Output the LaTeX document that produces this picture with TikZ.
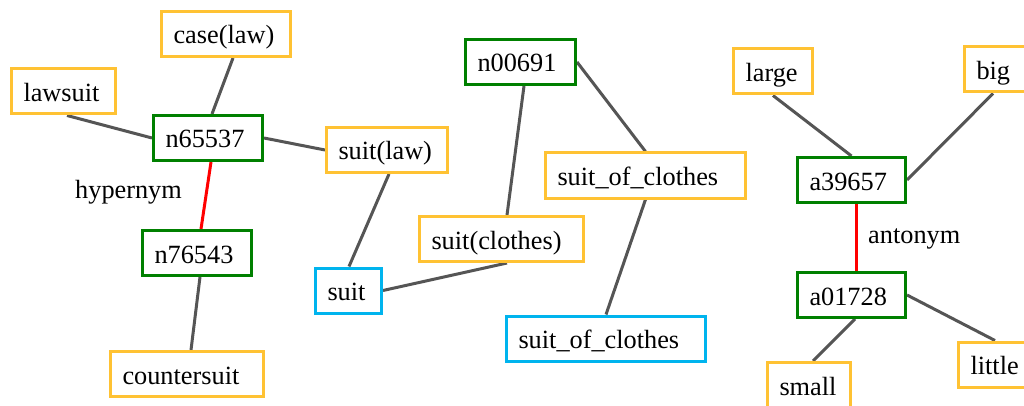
\documentclass[tikz,border=0pt]{standalone}
\usepackage{fontspec}
\setmainfont{Liberation Serif}
\usetikzlibrary{backgrounds}
\definecolor{wnorange}{HTML}{FFC233}
\definecolor{wngreen}{HTML}{008000}
\definecolor{wnblue}{HTML}{00B4EE}
\definecolor{wngray}{HTML}{555555}
\definecolor{wnred}{HTML}{FF0000}
\begin{document}
\begin{tikzpicture}[x=1pt,y=-1pt,
  box/.style={draw, line width=3pt, fill=white, inner xsep=12pt, inner ysep=0pt,
    minimum height=45pt, text height=22pt, text depth=2pt, align=left,
    font=\fontsize{26.3}{30}\selectfont},
  lemma/.style={box, draw=wnorange},
  syn/.style={box, draw=wngreen},
  word/.style={box, draw=wnblue},
  edge/.style={draw=wngray, line width=3pt},
  rel/.style={draw=wnred, line width=3pt},
  lbl/.style={inner sep=0pt, anchor=base west, font=\fontsize{26.3}{30}\selectfont}]
\useasboundingbox (0,0) rectangle (1024,406);
\clip (0,0) rectangle (1024,406);
% left cluster
\node[lemma, text width=105pt] (caselaw) at (226,34) {case(law)};
\node[lemma, text width=80pt] (lawsuit) at (63.5,91.5) {lawsuit};
\node[syn, text width=85pt] (n65537) at (208,138) {n65537};
\node[lemma, text width=97pt] (suitlaw) at (387,150) {suit(law)};
\node[syn, text width=85pt] (n76543) at (197,253) {n76543};
\node[lemma, text width=129pt] (countersuit) at (187,374) {countersuit};
\node[word, text width=42pt] (suit) at (348.5,290.5) {suit};
\node[lbl] (hyper) at (75,198) {hypernym};
% middle cluster
\node[syn, text width=86pt] (n00691) at (520.5,62) {n00691};
\node[lemma, text width=176pt] (socO) at (645.5,175.5) {suit\_of\_clothes};
\node[lemma, text width=140pt] (suitclothes) at (501.5,239) {suit(clothes)};
\node[word, text width=175pt] (socB) at (606,338.5) {suit\_of\_clothes};
% right cluster
\node[lemma, text width=55pt] (large) at (773,71.5) {large};
\node[lemma, text width=41pt] (big) at (997,69.5) {big};
\node[syn, text width=84pt] (a39657) at (851.5,180) {a39657};
\node[syn, text width=84pt] (a01728) at (851.5,295) {a01728};
\node[lemma, text width=59pt] (small) at (809,385) {small};
\node[lemma, text width=56pt] (little) at (998.5,364.5) {little};
\node[lbl] (anto) at (868,243) {antonym};
\begin{scope}[on background layer]
\draw[edge] ([xshift=7pt]caselaw.south) -- ([xshift=4pt]n65537.north);
\draw[edge] ([xshift=3.5pt]lawsuit.south) -- (n65537.west);
\draw[edge] (n65537.east) -- (suitlaw.west);
\draw[rel] ([xshift=3pt]n65537.south) -- ([xshift=4pt]n76543.north);
\draw[edge] ([xshift=3pt]n76543.south) -- ([xshift=4pt]countersuit.north);
\draw[edge] ([xshift=2pt]suitlaw.south) -- ([xshift=0.5pt]suit.north);
\draw[edge] (suit.east) -- ([xshift=5.5pt]suitclothes.south);
\draw[edge] ([xshift=3.5pt]n00691.south) -- ([xshift=5.5pt]suitclothes.north);
\draw[edge] (n00691.east) -- (socO.north);
\draw[edge] (socO.south) -- (socB.north);
\draw[edge] (large.south) -- (a39657.north);
\draw[edge] ([xshift=-4pt]big.south) -- (a39657.east);
\draw[rel] ([xshift=4.5pt]a39657.south) -- ([xshift=4.5pt]a01728.north);
\draw[edge] ([xshift=3.5pt]a01728.south) -- ([xshift=4pt]small.north);
\draw[edge] (a01728.east) -- ([xshift=-3.5pt]little.north);
\end{scope}
\end{tikzpicture}
\end{document}
